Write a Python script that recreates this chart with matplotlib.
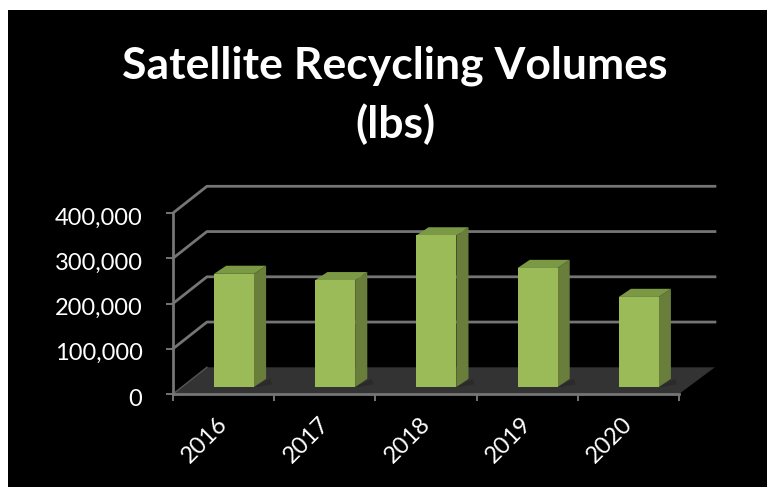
# Satellite recycling volumes, fake 3D column chart on black
import matplotlib
matplotlib.use("Agg")
import matplotlib.pyplot as plt
from matplotlib.ticker import FuncFormatter
from matplotlib.transforms import ScaledTranslation

years = ["2016", "2017", "2018", "2019", "2020"]
volumes = [250000, 236000, 335000, 263000, 199000]
y_ticks = [0, 100000, 200000, 300000, 400000]

# depth of the fake 3D box, in data units
depth_x = 0.335
depth_y = 59000
bar_base = 15500
bar_left = 0.405
bar_width = 0.395
bar_dx = 0.12
bar_dy = 18000

GREY = "#757575"

plt.rcParams["font.family"] = ["Lato", "DejaVu Sans"]

W, H = 767, 487
fig = plt.figure(figsize=(W / 100, H / 100), dpi=100, facecolor="white")

# black panel behind everything
bg = fig.add_axes([8 / W, 0, 759 / W, 477 / H])
bg.set_facecolor("black")
bg.set_xticks([])
bg.set_yticks([])
for s in bg.spines.values():
    s.set_visible(False)

ax = fig.add_axes([173 / W, 1 - 394 / H, 506 / W, 181 / H])
ax.patch.set_alpha(0)
ax.set_xlim(0, 5)
ax.set_ylim(0, 400000)

# floor
ax.fill([0, 5, 5 + depth_x + 0.02, depth_x], [0, 0, depth_y, depth_y],
        color="#333333", clip_on=False, zorder=1, lw=0)
ax.plot([0, depth_x], [0, depth_y], color="#555555", lw=1, clip_on=False, zorder=2)

# gridlines on the side and back walls
for v in y_ticks[1:]:
    ax.plot([0, depth_x, 5 + depth_x + 0.02], [v, v + depth_y, v + depth_y],
            color=GREY, lw=2, clip_on=False, zorder=2)

# bars, front face first then the side and the top
lefts = [i + bar_left for i in range(len(years))]
ax.bar(lefts, volumes, width=bar_width, bottom=bar_base, align="edge",
       color="#9bbb59", clip_on=False, zorder=5, lw=0)
for x, v in zip(lefts, volumes):
    r = x + bar_width
    t = v + bar_base
    # small shadow on the floor
    ax.fill([r, r + bar_dx + 0.04, r + bar_dx + 0.06, r + 0.03],
            [bar_base, bar_base + bar_dy, bar_base + 6000, bar_base],
            color="#2a2a2a", zorder=3, lw=0, clip_on=False)
    ax.fill([r, r + bar_dx, r + bar_dx, r],
            [bar_base, bar_base + bar_dy, t + bar_dy, t],
            color="#6a7e3c", clip_on=False, zorder=4, lw=0)
    ax.fill([x, r, r + bar_dx, x + bar_dx],
            [t, t, t + bar_dy, t + bar_dy],
            color="#7b9845", clip_on=False, zorder=4, lw=0)

for name in ["top", "right"]:
    ax.spines[name].set_visible(False)
for name in ["left", "bottom"]:
    ax.spines[name].set_color(GREY)
    ax.spines[name].set_linewidth(2)
    ax.spines[name].set_zorder(6)

ax.set_yticks(y_ticks)
ax.yaxis.set_major_formatter(FuncFormatter(lambda v, p: f"{int(v):,}"))
ax.tick_params(axis="y", colors=GREY, labelcolor="white", labelsize=17,
               length=5, width=1.4, pad=17)
nudge = ScaledTranslation(0, -3 / 100, fig.dpi_scale_trans)
for lab in ax.get_yticklabels():
    lab.set_transform(lab.get_transform() + nudge)

# boundary ticks on the major locator, year labels on the minor one
ax.set_xticks(range(6))
ax.set_xticklabels([])
ax.set_xticks([i + 0.317 for i in range(5)], minor=True)
ax.set_xticklabels(years, minor=True, rotation=45, ha="center", va="top",
                   rotation_mode="default", color="white", fontsize=17)
ax.tick_params(axis="x", which="major", colors=GREY, length=5, width=1.4)
ax.tick_params(axis="x", which="minor", length=0, pad=14)

fig.text(395 / W, 1 - 95 / H, "Satellite Recycling Volumes\n(lbs)", color="white",
         fontsize=32, fontweight="bold", ha="center", va="center", linespacing=1.5)

fig.savefig("out.png", dpi=100)
